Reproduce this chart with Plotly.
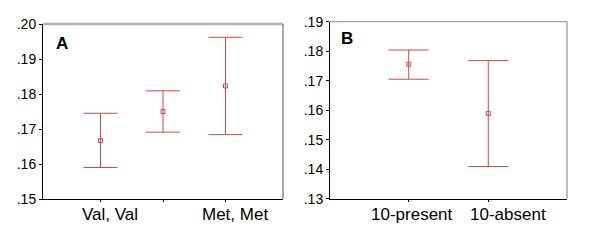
import plotly.graph_objects as go

# Panel A data
cats_a = ["Val, Val", "Val, Met", "Met, Met"]
label_a = ["Val, Val", "", "Met, Met"]
mean_a = [0.1667, 0.1750, 0.1823]
upper_a = [0.1745, 0.1809, 0.1962]
lower_a = [0.1590, 0.1691, 0.1684]

# Panel B data
cats_b = ["10-present", "10-absent"]
mean_b = [0.1756, 0.1589]
upper_b = [0.1804, 0.1768]
lower_b = [0.1705, 0.1409]

yticks_a = [0.15, 0.16, 0.17, 0.18, 0.19, 0.20]
yticks_b = [0.13, 0.14, 0.15, 0.16, 0.17, 0.18, 0.19]

RED = "#cc4a4a"
FONT = "Arial, Liberation Sans, sans-serif"

def lbl(v):
    return ("%.2f" % v)[1:]

fig = go.Figure()

xa = list(range(len(cats_a)))
xb = list(range(len(cats_b)))

fig.add_trace(go.Scatter(
    x=xa, y=mean_a, mode="markers", xaxis="x", yaxis="y",
    marker=dict(symbol="square-open", size=4, color=RED, line=dict(width=1, color=RED)),
    error_y=dict(type="data", symmetric=False,
                 array=[u - m for u, m in zip(upper_a, mean_a)],
                 arrayminus=[m - l for m, l in zip(mean_a, lower_a)],
                 color=RED, thickness=1, width=17),
    showlegend=False, hoverinfo="skip"))

fig.add_trace(go.Scatter(
    x=xb, y=mean_b, mode="markers", xaxis="x2", yaxis="y2",
    marker=dict(symbol="square-open", size=4, color=RED, line=dict(width=1, color=RED)),
    error_y=dict(type="data", symmetric=False,
                 array=[u - m for u, m in zip(upper_b, mean_b)],
                 arrayminus=[m - l for m, l in zip(mean_b, lower_b)],
                 color=RED, thickness=1, width=20),
    showlegend=False, hoverinfo="skip"))

# page has an 8px body margin; figure sized to fit the 600x240 window
OFF = 8
W, H = 600 - OFF, 240 - OFF
def dx(p): return (p - OFF) / W
def dy(p): return 1 - (p - OFF) / H

tickfont = dict(family=FONT, size=14, color="black")
catfont = dict(family=FONT, size=17, color="black")

common_x = dict(showgrid=False, zeroline=False, showline=True, linecolor="black", linewidth=1,
                ticks="outside", ticklen=2, tickcolor="black", showticklabels=False,
                automargin=False)
common_y = dict(showgrid=False, zeroline=False, showline=True, linecolor="black", linewidth=1,
                ticks="outside", ticklen=3, tickcolor="black", tickfont=tickfont,
                automargin=False)

annotations = [
    dict(text="<b>A</b>", xref="paper", yref="paper", x=dx(62), y=dy(44),
         showarrow=False, xanchor="center", yanchor="middle",
         font=dict(family=FONT, size=17, color="black")),
    dict(text="<b>B</b>", xref="paper", yref="paper", x=dx(347), y=dy(39),
         showarrow=False, xanchor="center", yanchor="middle",
         font=dict(family=FONT, size=17, color="black")),
]
shift_a = [9, 0, 9]
for i, t in enumerate(label_a):
    if t:
        annotations.append(dict(text=t, xref="x", yref="paper", x=xa[i], y=dy(214.7),
                                xshift=shift_a[i], showarrow=False, xanchor="center",
                                yanchor="middle", font=catfont))
shift_b = [3, 20]
for i, t in enumerate(cats_b):
    annotations.append(dict(text=t, xref="x2", yref="paper", x=xb[i], y=dy(214.7),
                            xshift=shift_b[i], showarrow=False, xanchor="center",
                            yanchor="middle", font=catfont))

fig.update_layout(
    width=W, height=H, margin=dict(l=0, r=0, t=0, b=0, autoexpand=False),
    paper_bgcolor="white", plot_bgcolor="white",
    xaxis=dict(domain=[dx(43), dx(283)], range=[-0.92, 2.92],
               tickmode="array", tickvals=xa, anchor="y", **common_x),
    yaxis=dict(domain=[dy(199), dy(24)], range=[0.15, 0.20],
               tickmode="array", tickvals=yticks_a, ticktext=[lbl(v) for v in yticks_a],
               anchor="x", **common_y),
    xaxis2=dict(domain=[dx(330), dx(567)], range=[-0.99, 1.99],
                tickmode="array", tickvals=xb, anchor="y2", **common_x),
    yaxis2=dict(domain=[dy(198.7), dy(21.7)], range=[0.13, 0.19],
                tickmode="array", tickvals=yticks_b, ticktext=[lbl(v) for v in yticks_b],
                anchor="x2", **common_y),
    shapes=[
        dict(type="line", xref="x domain", yref="y domain", x0=0, x1=1, y0=1, y1=1,
             line=dict(color="#b4b4b4", width=2.5)),
        dict(type="line", xref="x domain", yref="y domain", x0=1, x1=1, y0=0, y1=1,
             line=dict(color="#707070", width=1.2)),
        dict(type="line", xref="x2 domain", yref="y2 domain", x0=0, x1=1, y0=1, y1=1,
             line=dict(color="#909090", width=1)),
        dict(type="line", xref="x2 domain", yref="y2 domain", x0=1, x1=1, y0=0, y1=1,
             line=dict(color="#808080", width=1)),
    ],
    annotations=annotations,
)

fig.write_html("out.html")
